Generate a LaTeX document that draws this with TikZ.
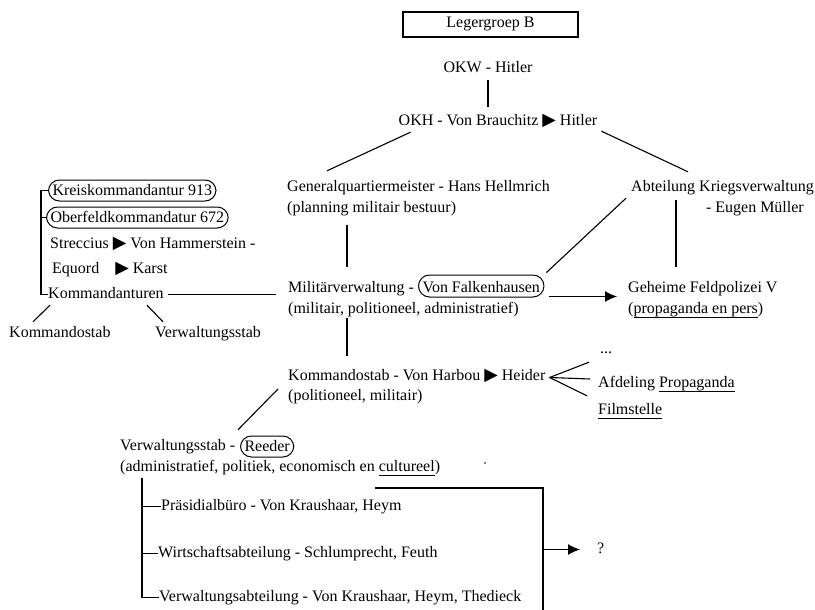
\documentclass[tikz,border=0pt]{standalone}
\usepackage{fontspec}
\setmainfont{Liberation Serif}
\newfontfamily\symfont{DejaVu Sans}[Scale=1.1]
\usetikzlibrary{arrows.meta}
% black pointer used between names
\newcommand\tri{{\symfont ▶}}
% underline at a fixed depth below the baseline
\newcommand\myul[1]{\setbox0\hbox{#1}\rlap{\rule[-5pt]{\wd0}{1pt}}\box0}
\begin{document}
\begin{tikzpicture}[x=1pt,y=-1pt,
  font=\fontsize{16pt}{20pt}\selectfont,
  txt/.style={inner sep=0pt, anchor=base west, text height=11pt, text depth=4pt},
  oval/.style={draw, line width=1pt, rounded corners=11pt, inner xsep=4pt,
    inner ysep=0pt, text height=15pt, text depth=6pt, anchor=base west},
  link/.style={line width=1.1pt},
  arr/.style={link, -{Latex[length=12pt,width=11pt]}}]
\useasboundingbox (0,0) rectangle (815,610);

% top of the hierarchy
\node[draw, line width=1.1pt, minimum width=175pt, minimum height=25pt, inner sep=0pt,
  text height=11pt, text depth=4pt] (leger) at (490.5,24.5) {Legergroep B};
\node[txt, anchor=base] (okw) at (488,73) {OKW - Hitler};
\node[txt, anchor=base] (okh) at (498,125) {OKH - Von Brauchitz \tri{} Hitler};

% second level
\node[txt] (gq) at (287,191) {Generalquartiermeister - Hans Hellmrich};
\node[txt] (gqsub) at (287,212) {(planning militair bestuur)};
\node[txt] (abt) at (631,191) {Abteilung Kriegsverwaltung};
\node[txt, anchor=base east] (abtsub) at (804,212) {- Eugen Müller};

% military administration
\node[txt] (mil) at (288,292) {Militärverwaltung -};
\node[oval, text height=17pt, text depth=5pt] (falk) at (418,292) {Von Falkenhausen};
\node[txt] (milsub) at (288,313) {(militair, politioneel, administratief)};
\node[txt] (geh) at (628,292) {Geheime Feldpolizei V};
\node[txt] (gehsub) at (628,313) {(\myul{propaganda en pers})};

% regional commands
\node[oval] (kreis) at (48,195) {Kreiskommandantur 913};
\node[oval] (ober) at (46,222) {Oberfeldkommandatur 672};
\node[txt] (strec) at (50,248) {Streccius \tri{} Von Hammerstein -};
\node[txt] (equ) at (52,273) {Equord\hspace{12pt} \tri{} Karst};
\node[txt] (kmd) at (48,298) {Kommandanturen};
\node[txt] (kstabl) at (9,337) {Kommandostab};
\node[txt] (vstabl) at (155,337) {Verwaltungsstab};

% command staff
\node[txt] (kstab) at (288,380) {Kommandostab - Von Harbou \tri{} Heider};
\node[txt] (kstabsub) at (288,400) {(politioneel, militair)};
\node[txt] (dots) at (600,353) {...};
\node[txt] (afd) at (598,387) {Afdeling \myul{Propaganda}};
\node[txt] (film) at (598,414) {\myul{Filmstelle}};

% administrative staff
\node[txt] (vstab) at (120,450) {Verwaltungsstab -};
\node[oval] (reeder) at (240,451) {Reeder};
\node[txt] (vstabsub) at (120,471) {(administratief, politiek, economisch en \myul{cultureel})};
\node[txt] (pras) at (161,510) {Präsidialbüro - Von Kraushaar, Heym};
\node[txt] (wirt) at (158,557) {Wirtschaftsabteilung - Schlumprecht, Feuth};
\node[txt] (verw) at (159,601) {Verwaltungsabteilung - Von Kraushaar, Heym, Thedieck};
\node[txt] (q) at (597,553) {?};

% connectors
\draw[link, shorten <=3pt, shorten >=7pt] (okw.south) -- (okw.south |- okh.north);
\draw[link] ([xshift=12pt,yshift=-3pt]okh.south west) -- ([xshift=40pt,yshift=9pt]gq.north west);
\draw[link] ([xshift=4pt,yshift=-2pt]okh.south east) -- ([xshift=57pt,yshift=8pt]abt.north west);
\draw[link] ([xshift=60pt,yshift=-9pt]gqsub.south west) -- ([xshift=59pt,yshift=14pt]mil.north west);
\draw[link] ([xshift=45pt,yshift=-5pt]abt.south west) -- ([xshift=48pt,yshift=14pt]geh.north west);
\draw[link] ([xshift=-5pt,yshift=-3pt]abt.south west) -- ([xshift=2pt,yshift=2pt]falk.north east);
\coordinate (falkout) at ([xshift=5pt,yshift=1pt]falk.south east);
\draw[arr, shorten >=11pt] (falkout) -- (falkout -| geh.west);

\draw[link] (kreis.west) -- ++(-7,0) |- (kmd.west);
\draw[link] (ober.west) -- ++(-5,0);
\draw[link, shorten <=4pt, shorten >=12pt] (kmd.east) -- (kmd.east -| mil.west);
\draw[link] ([xshift=2pt,yshift=-3pt]kmd.south west) -- ([xshift=24pt,yshift=4pt]kstabl.north west);
\draw[link] ([xshift=99pt,yshift=-3pt]kmd.south west) -- ([xshift=8pt,yshift=4pt]vstabl.north west);

\draw[link] ([xshift=59pt,yshift=-1pt]milsub.south west) -- ([xshift=59pt,yshift=13pt]kstab.north west);
\coordinate (fan) at ([xshift=4pt,yshift=-1pt]kstab.east);
\draw[link] (fan) -- ([xshift=-11pt,yshift=-5pt]dots.south west);
\draw[link] (fan) -- ([xshift=-8pt,yshift=4.5pt]afd.west);
\draw[link] (fan) -- ([xshift=-11pt,yshift=7pt]film.north west);
\draw[link] ([xshift=-10pt,yshift=7.5pt]kstabsub.west) -- ([xshift=118pt,yshift=9pt]vstab.north west);

\coordinate (vtop) at ([xshift=22pt,yshift=-3pt]vstabsub.south west);
\draw[link] (vtop) |- (verw.west);
\draw[link] (vtop |- pras.west) -- (pras.west);
\draw[link] (vtop |- wirt.west) -- (wirt.west);

\coordinate (brstart) at (375,488);
\coordinate (brcorner) at (543,488);
\coordinate (brfoot) at (543,612);
\draw[link] (brstart) -- (brcorner) -- (brfoot);
\draw[arr, shorten >=17pt] (brcorner |- q.west) -- (q.west);

\fill (485,463) circle (0.8);
\end{tikzpicture}
\end{document}
